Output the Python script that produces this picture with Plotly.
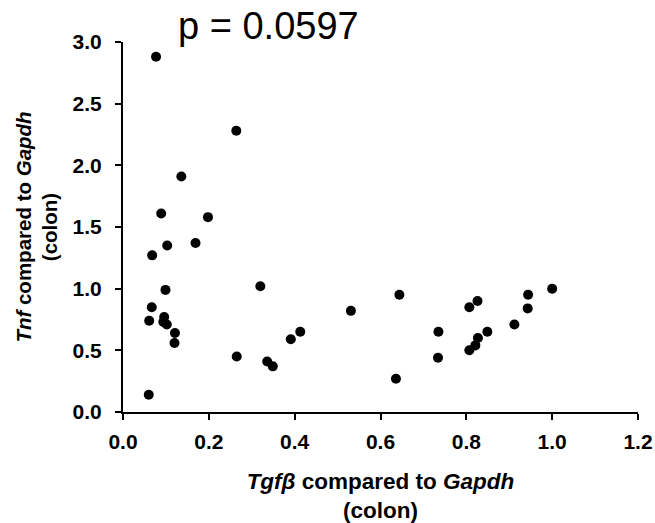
import plotly.graph_objects as go

tgfb = [0.077, 0.264, 0.136, 0.089, 0.198, 0.103, 0.169, 0.068, 0.099, 0.320,
        0.067, 0.061, 0.096, 0.094, 0.102, 0.121, 0.120, 0.391, 0.413, 0.265,
        0.336, 0.349, 0.060, 0.531, 0.644, 0.636, 0.735, 0.734, 0.807, 0.826,
        0.849, 0.827, 0.821, 0.807, 0.912, 0.943, 0.944, 1.000]
tnf = [2.88, 2.28, 1.91, 1.61, 1.58, 1.35, 1.37, 1.27, 0.99, 1.02,
       0.85, 0.74, 0.77, 0.73, 0.71, 0.64, 0.56, 0.59, 0.65, 0.45,
       0.41, 0.37, 0.14, 0.82, 0.95, 0.27, 0.65, 0.44, 0.85, 0.90,
       0.65, 0.60, 0.54, 0.50, 0.71, 0.84, 0.95, 1.00]

x_ticks = [0.0, 0.2, 0.4, 0.6, 0.8, 1.0, 1.2]
y_ticks = [0.0, 0.5, 1.0, 1.5, 2.0, 2.5, 3.0]
p_label = "p = 0.0597"

FONT = "Arial, 'Liberation Sans', sans-serif"

fig = go.Figure(go.Scatter(
    x=tgfb, y=tnf, mode="markers",
    marker=dict(color="black", size=10, line=dict(width=0)),
    showlegend=False,
))

axis_common = dict(
    showline=True, linecolor="black", linewidth=2,
    ticks="outside", ticklen=6, tickwidth=2, tickcolor="black",
    showgrid=False, zeroline=False, automargin=False,
    tickfont=dict(family=FONT, size=21, color="black", weight="bold"),
)

fig.update_xaxes(
    range=[0, 1.2], tickvals=x_ticks, ticktext=[f"{v:.1f}" for v in x_ticks],
    title=dict(text="<b><i>Tgfβ</i> compared to <i>Gapdh</i><br>(colon)</b>",
               font=dict(family=FONT, size=22.5, color="black"), standoff=22),
    ticklabelstandoff=4,
    **axis_common,
)
fig.update_yaxes(
    range=[0, 3.0], tickvals=y_ticks, ticktext=[f"{v:.1f}" for v in y_ticks],
    title=dict(text="<b><i>Tnf</i> compared to <i>Gapdh</i><br>(colon)</b>",
               font=dict(family=FONT, size=20.5, color="black"), standoff=9),
    ticklabelstandoff=9,
    **axis_common,
)

fig.add_annotation(
    text=p_label, xref="paper", yref="paper", x=0.282, y=1.043,
    xanchor="center", yanchor="middle", showarrow=False,
    font=dict(family=FONT, size=38, color="black"),
)

fig.update_layout(
    width=655, height=523,
    margin=dict(l=123, r=17, t=42, b=111),
    paper_bgcolor="white", plot_bgcolor="white",
)

fig.write_html("out.html", config={"displayModeBar": False},
               post_script="document.body.style.margin='0';")
